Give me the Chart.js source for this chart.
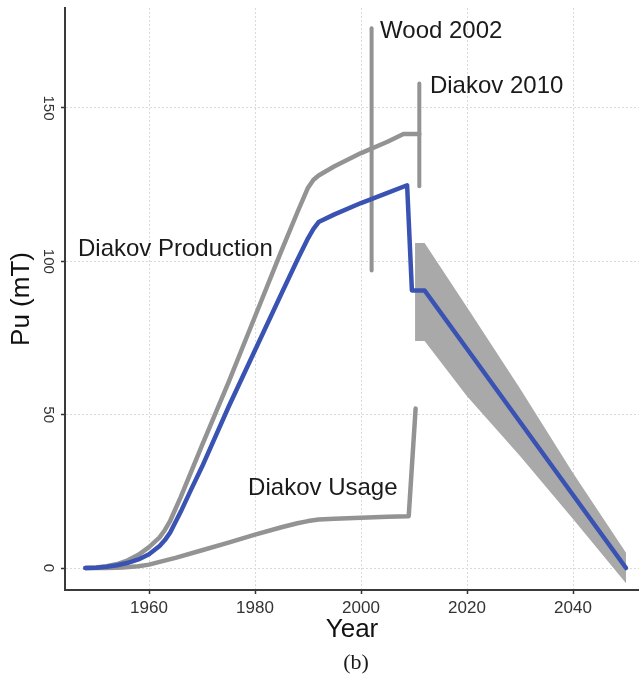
<!DOCTYPE html>
<html>
<head>
<meta charset="utf-8">
<script src="https://cdn.jsdelivr.net/npm/chart.js@4"></script>
<style>
  html, body { margin: 0; padding: 0; background: #fff; }
  canvas { display: block; }
</style>
</head>
<body>
<canvas id="pu" width="639" height="679"></canvas>
<script>
// Diakov production (gray)
var prodYears  = [1948, 1950, 1952, 1954, 1956, 1958, 1960, 1962, 1963, 1964, 1966, 1968, 1970, 1975, 1980, 1985, 1988, 1990, 1991, 1992, 1995, 2000, 2005, 2008, 2011];
var prodValues = [0, 0.2, 0.6, 1.3, 2.5, 4.3, 6.8, 10, 12.4, 15.4, 23.2, 31.6, 40, 60.5, 82, 103.5, 116, 124, 126.5, 128, 131, 135.3, 139, 141.5, 141.5];

// Diakov usage (gray)
var useYears  = [1948, 1952, 1955, 1958, 1960, 1962, 1965, 1970, 1975, 1980, 1985, 1988, 1990, 1992, 1995, 2000, 2005, 2009, 2010.3];
var useValues = [0, 0, 0.2, 0.6, 1.1, 2, 3.3, 5.8, 8.3, 10.9, 13.3, 14.6, 15.3, 15.8, 16.1, 16.4, 16.7, 16.9, 52];

// stock estimate (blue)
var stockYears  = [1948, 1950, 1952, 1954, 1956, 1958, 1960, 1962, 1963, 1964, 1966, 1968, 1970, 1975, 1980, 1985, 1988, 1990, 1991, 1992, 1995, 2000, 2005, 2008.7, 2009.6, 2012, 2050];
var stockValues = [0, 0.1, 0.4, 0.9, 1.7, 2.8, 4.5, 7.2, 9.1, 11.6, 18.4, 25.8, 33, 52.5, 71, 89.5, 100.5, 107.5, 110.5, 112.8, 115.3, 119, 122.3, 124.8, 90.5, 90.5, 0];

// projection range (gray band)
var bandYears = [2010.2, 2012, 2020, 2030, 2040, 2050];
var bandLow   = [74, 74, 56, 36.5, 16, -5];
var bandHigh  = [106, 106, 85, 58.5, 31, 5];

// estimate ranges (vertical bars)
var woodYear = 2002,   woodRange = [97, 176];
var diakovYear = 2011, diakovRange = [124.5, 158];

var xTicks = [1960, 1980, 2000, 2020, 2040];
var yTicks = [0, 50, 100, 150];

var notes = [
    { text: 'Diakov Production', x: 1946.6, y: 101.7 },
    { text: 'Wood 2002',         x: 2003.6, y: 172.8 },
    { text: 'Diakov 2010',       x: 2013.0, y: 154.9 },
    { text: 'Diakov Usage',      x: 1978.7, y: 23.8 }
];

function pts(xs, ys) {
    return xs.map(function (x, i) { return { x: x, y: ys[i] }; });
}

var GRAY = '#939393';
var BLUE = '#3a53b3';

function lineSet(data, color, width) {
    return {
        data: data,
        borderColor: color,
        borderWidth: width,
        borderCapStyle: 'round',
        borderJoinStyle: 'round',
        pointRadius: 0,
        fill: false,
        tension: 0
    };
}

// texts written on the plot
var notesPlugin = {
    id: 'notes',
    afterDatasetsDraw: function (chart) {
        var ctx = chart.ctx, sx = chart.scales.x, sy = chart.scales.y;
        ctx.save();
        ctx.fillStyle = '#1a1a1a';
        ctx.font = '24px "Liberation Sans", Arial, sans-serif';
        ctx.textAlign = 'left';
        ctx.textBaseline = 'alphabetic';
        notes.forEach(function (n) {
            ctx.fillText(n.text, sx.getPixelForValue(n.x), sy.getPixelForValue(n.y));
        });
        ctx.font = '22px "Liberation Serif", "Times New Roman", serif';
        ctx.textAlign = 'center';
        ctx.textBaseline = 'middle';
        ctx.fillText('(b)', (chart.chartArea.left + chart.chartArea.right) / 2 + 4, chart.height - 16);
        ctx.restore();
    }
};

var chart = new Chart(document.getElementById('pu'), {
    type: 'line',
    data: {
        datasets: [
            lineSet(pts(stockYears, stockValues), BLUE, 4.5),
            lineSet(pts([woodYear, woodYear], woodRange), GRAY, 4),
            lineSet(pts([diakovYear, diakovYear], diakovRange), GRAY, 4),
            lineSet(pts(prodYears, prodValues), GRAY, 4.5),
            lineSet(pts(useYears, useValues), GRAY, 4.5),
            {
                data: pts(bandYears, bandHigh),
                borderColor: 'rgba(0,0,0,0)',
                backgroundColor: '#a9a9a9',
                pointRadius: 0,
                fill: '+1'
            },
            {
                data: pts(bandYears, bandLow),
                borderColor: 'rgba(0,0,0,0)',
                pointRadius: 0,
                fill: false
            }
        ]
    },
    options: {
        responsive: false,
        animation: false,
        devicePixelRatio: 1,
        layout: { padding: { top: 8, right: 0, left: 0, bottom: 0 } },
        plugins: {
            legend: { display: false },
            tooltip: { enabled: false }
        },
        scales: {
            x: {
                type: 'linear',
                min: 1944.15,
                max: 2052.45,
                afterBuildTicks: function (s) { s.ticks = xTicks.map(function (v) { return { value: v }; }); },
                afterFit: function (s) { s.height = 89; },
                ticks: {
                    padding: 4,
                    color: '#333',
                    font: { family: '"Liberation Sans", Arial, sans-serif', size: 17 },
                    callback: function (v) { return String(v); }
                },
                grid: { color: '#dadada', lineWidth: 1, tickColor: '#333', tickWidth: 1.5, tickLength: 4 },
                border: { color: '#3a3a3a', width: 2, dash: [2, 2] },
                title: {
                    display: true,
                    text: 'Year',
                    color: '#111',
                    font: { family: '"Liberation Sans", Arial, sans-serif', size: 26 },
                    padding: { top: 0, bottom: 34 }
                }
            },
            y: {
                type: 'linear',
                min: -7.17,
                max: 182.6,
                afterBuildTicks: function (s) { s.ticks = yTicks.map(function (v) { return { value: v }; }); },
                afterFit: function (s) { s.width = 65; },
                ticks: {
                    padding: 0,
                    minRotation: -90,
                    maxRotation: -90,
                    crossAlign: 'center',
                    color: '#333',
                    font: { family: '"Liberation Sans", Arial, sans-serif', size: 15, lineHeight: 1 },
                    callback: function (v) { return String(v); }
                },
                grid: { color: '#dadada', lineWidth: 1, tickColor: '#333', tickWidth: 1.5, tickLength: 4 },
                border: { color: '#3a3a3a', width: 2, dash: [2, 2] },
                title: {
                    display: true,
                    text: 'Pu (mT)',
                    color: '#111',
                    font: { family: '"Liberation Sans", Arial, sans-serif', size: 26 },
                    padding: { top: 6, bottom: 0 }
                }
            }
        }
    },
    plugins: [notesPlugin]
});
</script>
</body>
</html>
